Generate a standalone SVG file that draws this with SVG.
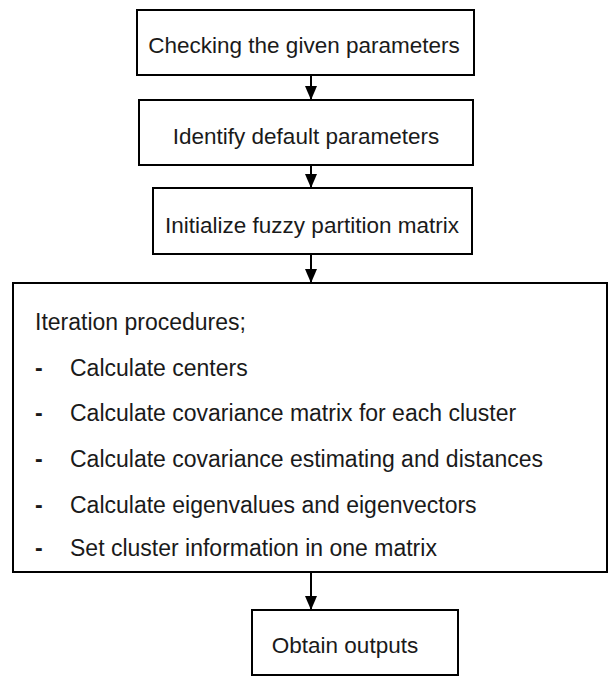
<svg xmlns="http://www.w3.org/2000/svg" width="616" height="697" viewBox="0 0 616 697">
<defs>
<marker id="ah" markerWidth="14" markerHeight="12" refX="14" refY="6" orient="auto" markerUnits="userSpaceOnUse" viewBox="0 0 14 12">
<path d="M0,0 L14,6 L0,12 Z" fill="#000"/>
</marker>
</defs>
<style>
.box{fill:#fff;stroke:#000;stroke-width:2}
.t{font-family:"Liberation Sans",Arial,sans-serif;font-size:22.5px;fill:#1a1a1a}
.b{font-size:23px}
.d{font-weight:bold}
.c{text-anchor:middle}
.conn{stroke:#000;stroke-width:2;fill:none}
</style>
<rect width="616" height="697" fill="#fff"/>
<g id="connectors">
<line class="conn" x1="311" y1="75" x2="311" y2="100" marker-end="url(#ah)"/>
<line class="conn" x1="311" y1="165" x2="311" y2="188" marker-end="url(#ah)"/>
<line class="conn" x1="311" y1="254" x2="311" y2="283" marker-end="url(#ah)"/>
<line class="conn" x1="311" y1="572" x2="311" y2="610" marker-end="url(#ah)"/>
</g>
<g id="n1">
<rect class="box" x="137" y="10" width="337" height="65"/>
<text class="t c" x="304" y="53">Checking the given parameters</text>
</g>
<g id="n2">
<rect class="box" x="139" y="100" width="334" height="65"/>
<text class="t c" x="306" y="144">Identify default parameters</text>
</g>
<g id="n3">
<rect class="box" x="153" y="188" width="319" height="66"/>
<text class="t c" x="312" y="233">Initialize fuzzy partition matrix</text>
</g>
<g id="n4">
<rect class="box" x="13" y="283" width="594" height="289"/>
<text class="t b" x="35" y="330">Iteration procedures;</text>
<text class="t b d" x="35" y="376">-</text><text class="t b" x="70" y="376">Calculate centers</text>
<text class="t b d" x="35" y="421">-</text><text class="t b" x="70" y="421">Calculate covariance matrix for each cluster</text>
<text class="t b d" x="35" y="467">-</text><text class="t b" x="70" y="467">Calculate covariance estimating and distances</text>
<text class="t b d" x="35" y="513">-</text><text class="t b" x="70" y="513">Calculate eigenvalues and eigenvectors</text>
<text class="t b d" x="35" y="556">-</text><text class="t b" x="70" y="556">Set cluster information in one matrix</text>
</g>
<g id="n5">
<rect class="box" x="252" y="610" width="206" height="65"/>
<text class="t c" x="345" y="653">Obtain outputs</text>
</g>
</svg>
